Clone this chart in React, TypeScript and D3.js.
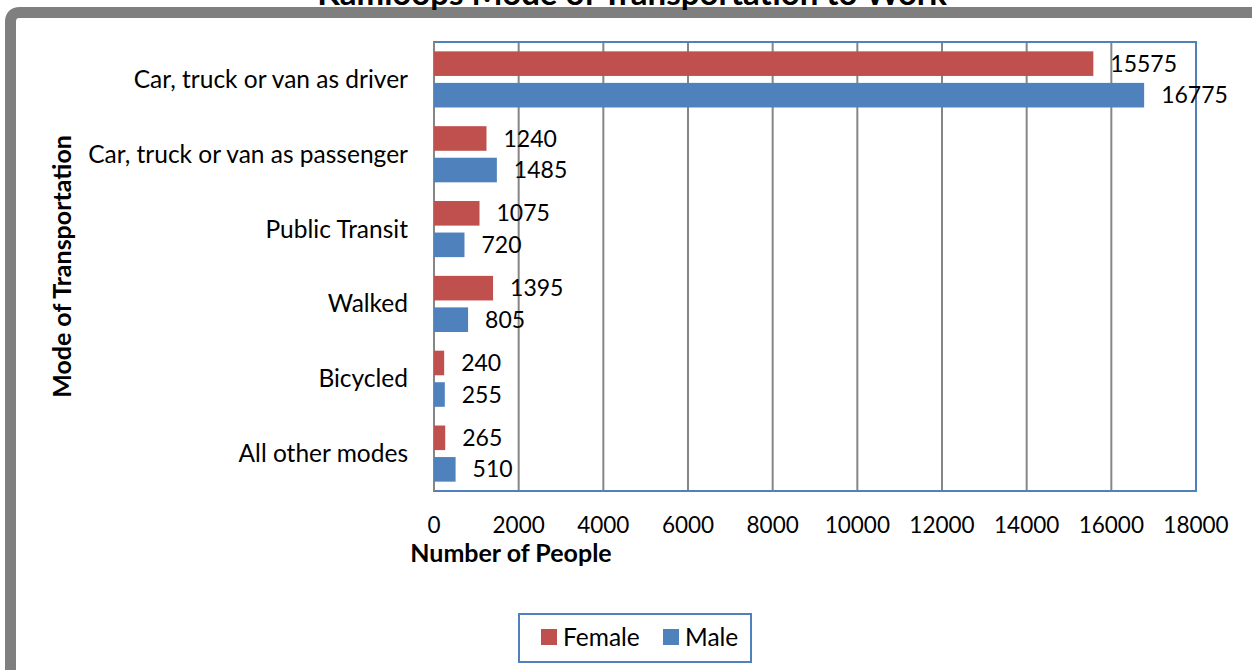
import React from 'react';
import * as d3 from 'd3';

const categories = [
  'Car, truck or van as driver',
  'Car, truck or van as passenger',
  'Public Transit',
  'Walked',
  'Bicycled',
  'All other modes',
];
const female = [15575, 1240, 1075, 1395, 240, 265];
const male = [16775, 1485, 720, 805, 255, 510];
const xTicks = [0, 2000, 4000, 6000, 8000, 10000, 12000, 14000, 16000, 18000];
const seriesNames = ['Female', 'Male'];
const seriesColors = ['#C0504D', '#4F81BD'];

const W = 1252;
const H = 670;
const font = 'Lato, "Open Sans", sans-serif';

export default function App() {
  const plot = { left: 434, top: 42, right: 1196, bottom: 491 };

  const x = d3.scaleLinear().domain([0, 18000]).range([plot.left, plot.right]);
  const y = d3.scaleBand<string>()
    .domain(categories)
    .range([plot.top, plot.bottom])
    .paddingInner(0.25)
    .paddingOuter(0.125);
  const inner = d3.scaleBand<string>()
    .domain(seriesNames)
    .range([0, y.bandwidth()])
    .paddingInner(0.22);

  const series = [female, male];

  return (
    <svg width={W} height={H} style={{ position: 'absolute', left: 0, top: 0, background: '#fff' }}>
      {/* outer frame */}
      <path
        d={`M10.5,${H + 10} L10.5,22 Q10.5,12.5 20,12.5 L${W + 10},12.5`}
        fill="none"
        stroke="#7F7F7F"
        strokeWidth={11}
      />
      <text x={632} y={5} textAnchor="middle" fontFamily={font} fontWeight="bold" fontSize={33} fill="#000">
        Kamloops Mode of Transportation to Work
      </text>

      {/* gridlines */}
      {xTicks.slice(1, -1).map(t => (
        <line key={t} x1={x(t)} x2={x(t)} y1={plot.top} y2={plot.bottom} stroke="#868686" strokeWidth={2} />
      ))}
      <rect
        x={plot.left}
        y={plot.top}
        width={plot.right - plot.left}
        height={plot.bottom - plot.top}
        fill="none"
        stroke="#4F81BD"
        strokeWidth={2}
      />
      <line x1={plot.left} x2={plot.left} y1={plot.top} y2={plot.bottom} stroke="#868686" strokeWidth={2} />

      {/* bars */}
      {categories.map((c, i) => (
        <g key={c}>
          {series.map((vals, s) => {
            const by = (y(c) as number) + (inner(seriesNames[s]) as number);
            const bh = inner.bandwidth();
            return (
              <g key={s}>
                <rect
                  x={x(0)}
                  y={by}
                  width={x(vals[i]) - x(0)}
                  height={bh}
                  fill={seriesColors[s]}
                />
                <text
                  x={x(vals[i]) + 17}
                  y={by + bh / 2}
                  dy="0.35em"
                  fontFamily={font}
                  fontSize={23}
                  fill="#000"
                >
                  {vals[i]}
                </text>
              </g>
            );
          })}
          <text
            x={408}
            y={(y(c) as number) + y.bandwidth() / 2}
            dy="0.35em"
            textAnchor="end"
            fontFamily={font}
            fontSize={24.5}
            fill="#000"
          >
            {c}
          </text>
        </g>
      ))}

      {/* x tick labels */}
      {xTicks.map(t => (
        <text key={t} x={x(t)} y={525} dy="0.35em" textAnchor="middle" fontFamily={font} fontSize={22.5} fill="#000">
          {t}
        </text>
      ))}
      <text x={511} y={553} dy="0.35em" textAnchor="middle" fontFamily={font} fontWeight="bold" fontSize={25} fill="#000">
        Number of People
      </text>
      <text
        transform={`translate(62,${(plot.top + plot.bottom) / 2}) rotate(-90)`}
        dy="0.35em"
        textAnchor="middle"
        fontFamily={font}
        fontWeight="bold"
        fontSize={25}
        fill="#000"
      >
        Mode of Transportation
      </text>

      {/* legend */}
      <rect x={519} y={614} width={232} height={48} fill="#fff" stroke="#4F81BD" strokeWidth={2} />
      {seriesNames.map((n, s) => {
        const lx = s === 0 ? 541 : 663;
        return (
          <g key={n}>
            <rect x={lx} y={629} width={16} height={16} fill={seriesColors[s]} />
            <text x={lx + 22} y={637} dy="0.35em" fontFamily={font} fontSize={24.5} fill="#000">
              {n}
            </text>
          </g>
        );
      })}
    </svg>
  );
}
